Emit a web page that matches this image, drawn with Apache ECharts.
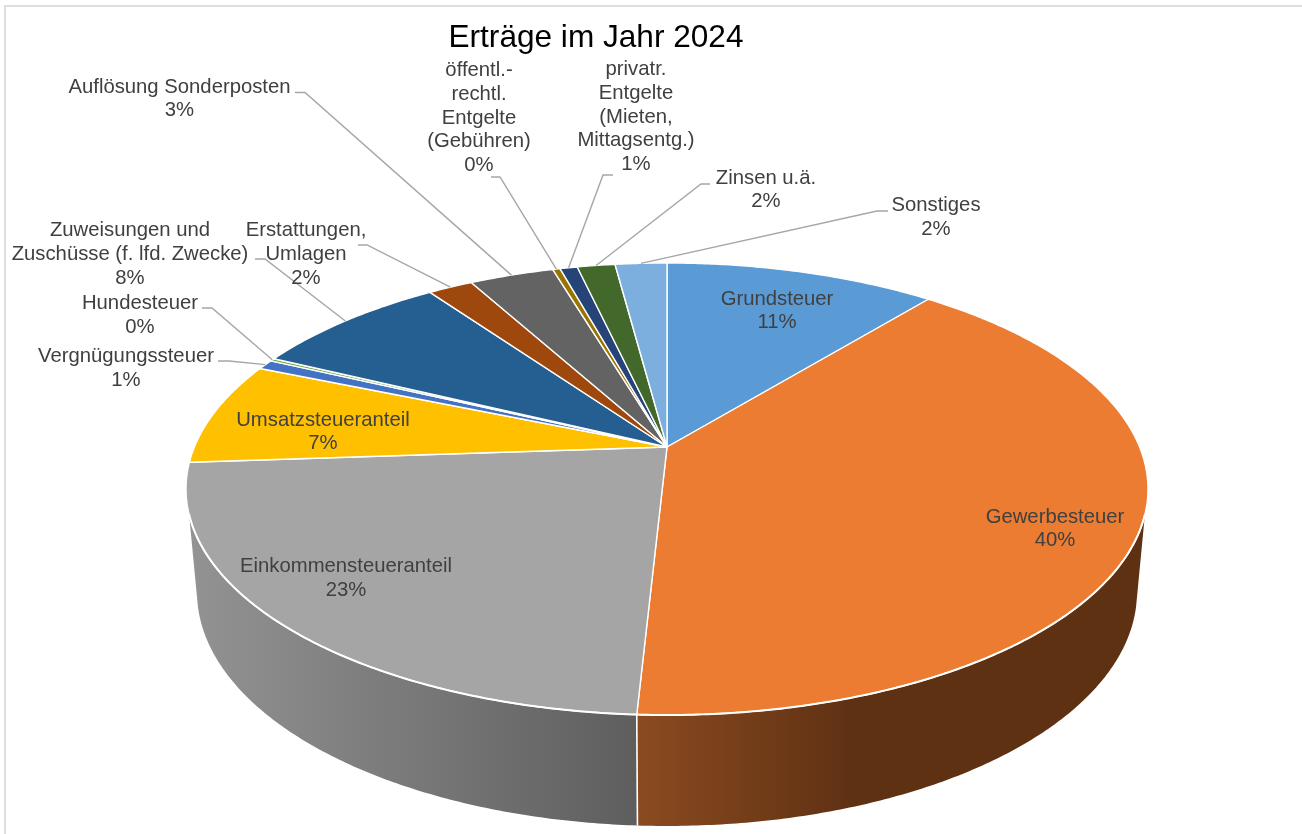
<!DOCTYPE html>
<html>
<head>
<meta charset="utf-8">
<style>html,body{margin:0;padding:0;background:#fff}#c{width:1302px;height:834px}</style>
<script src="https://cdn.jsdelivr.net/npm/echarts@6/dist/echarts.min.js"></script>
</head>
<body>
<div id="c"></div>
<script>
const chartTitle = 'Erträge im Jahr 2024';
const categories = ['Grundsteuer','Gewerbesteuer','Einkommensteueranteil','Umsatzsteueranteil','Vergnügungssteuer','Hundesteuer','Zuweisungen und\nZuschüsse (f. lfd. Zwecke)','Erstattungen,\nUmlagen','Auflösung Sonderposten','öffentl.-\nrechtl.\nEntgelte\n(Gebühren)','privatr.\nEntgelte\n(Mieten,\nMittagsentg.)','Zinsen u.ä.','Sonstiges'];
const values = [10.9,39.93,23.07,7.4,0.7,0.2,8.0,1.8,3.4,0.3,0.7,1.52,2.08];

const sliceColors = ['#5B9BD5','#EC7C31','#A5A5A5','#FFC000','#4472C4','#70AD47','#255E91','#9E480E','#636363','#997300','#264478','#43682B','#7CAFDD'];
// label block centre, and the leader's horizontal stub (from, elbow); no stub = label sits on the slice
const labelPlaces = [
  {c:[777,311]},
  {c:[1055,529]},
  {c:[346,578.5]},
  {c:[323,432]},
  {c:[126,368.5],stub:[[218,361],[229,361]]},
  {c:[140,315.5],stub:[[202,308],[212,308]]},
  {c:[130,254.5],stub:[[255,259],[265,259]]},
  {c:[306,254.5],stub:[[358,245],[367,245]]},
  {c:[179.5,99],stub:[[295,92.5],[305,92.5]]},
  {c:[479,118],stub:[[491,177],[500,177]]},
  {c:[636,117],stub:[[613,175],[603,175]]},
  {c:[766,190],stub:[[710,184],[701,184]]},
  {c:[936,217.5],stub:[[888,211],[877,211]]}
];
// perspective projection of the pie's circles onto the page
const topRim = {x0:667,y0:447,a:472.6,b:218.2,k:0.1858};
const botRim = {x0:667,y0:548.5,a:461.8,b:225.9,k:0.1858};
const FONT = '"Liberation Sans", Arial, sans-serif';

function project(rim, deg){
  const t = deg*Math.PI/180, u = Math.sin(t), v = -Math.cos(t), w = 1-rim.k*v;
  return [rim.x0+rim.a*u/w, rim.y0+rim.b*v/w];
}
function arc(rim, from, to){
  const n = Math.max(2, Math.ceil(Math.abs(to-from)/0.5)), pts = [];
  for(let i=0;i<=n;i++) pts.push(project(rim, from+(to-from)*i/n));
  return pts;
}
const total = values.reduce((s,x)=>s+x,0);
const starts = []; values.reduce((s,x,i)=>{starts[i]=s; return s+x;},0);
const deg = x => x/total*360;

const wallStyles = {
  1:{from:107,botFrom:104,grad:[[0,'#8B4B20'],[0.42,'#5F3113'],[1,'#5F3113']]},
  2:{to:253,botTo:256,grad:[[0,'#939393'],[1,'#5E5E5E']]}
};

function renderSlice(params, api){
  const i = params.dataIndex, a0 = deg(starts[i]), a1 = a0+deg(api.value(0));
  const kids = [];
  const wall = wallStyles[i];
  const pts = [[topRim.x0,topRim.y0]].concat(arc(topRim,a0,a1));
  kids.push({type:'polygon',z2:1,shape:{points:pts},style:{fill:sliceColors[i],stroke:'#fff',lineWidth:1.4,lineJoin:'round'}});
  if(wall){
    const tFrom = wall.from!==undefined?wall.from:a0, tTo = wall.to!==undefined?wall.to:a1;
    const bFrom = wall.botFrom!==undefined?wall.botFrom:a0, bTo = wall.botTo!==undefined?wall.botTo:a1;
    const topPts = arc(topRim, tFrom, tTo);
    const botPts = arc(botRim, bFrom, bTo).reverse();
    const fill = new echarts.graphic.LinearGradient(0,0,1,0,wall.grad.map(s=>({offset:s[0],color:s[1]})));
    kids.push({type:'polygon',z2:0,shape:{points:topPts.concat(botPts)},style:{fill:fill,stroke:null}});
    kids.push({type:'polyline',z2:2,shape:{points:topPts},style:{fill:null,stroke:'#fff',lineWidth:2}});
  }
  if(i===1){
    const a = project(topRim,a1), b = project(botRim,a1);
    kids.push({type:'line',z2:2,shape:{x1:a[0],y1:a[1],x2:b[0],y2:b[1]},style:{stroke:'#fff',lineWidth:1.6}});
  }
  const place = labelPlaces[i];
  if(place.stub){
    const end = project(topRim,(a0+a1)/2);
    kids.push({type:'polyline',z2:3,shape:{points:place.stub.concat([end])},style:{fill:null,stroke:'#A6A6A6',lineWidth:1.4}});
  }
  kids.push({type:'text',z2:4,style:{
    text:categories[i]+'\n'+Math.round(api.value(0)/total*100)+'%',
    x:place.c[0],y:place.c[1],align:'center',verticalAlign:'middle',
    font:'20.3px '+FONT,lineHeight:23.7,fill:'#404040'}});
  return {type:'group',children:kids};
}

const chart = echarts.init(document.getElementById('c'),null,{renderer:'canvas'});
chart.setOption({
  animation:false,
  backgroundColor:'#fff',
  title:{text:chartTitle,left:591,top:17,textAlign:'center',textStyle:{fontFamily:FONT,fontSize:31.6,fontWeight:'normal',color:'#000'}},
  graphic:[{type:'rect',silent:true,shape:{x:5,y:6,width:1400,height:1000},style:{fill:'none',stroke:'#DEDEDE',lineWidth:2}}],
  series:[{type:'custom',coordinateSystem:'none',clip:false,silent:true,renderItem:renderSlice,
    data:values.map((v,i)=>({name:categories[i],value:v}))}]
});
</script>
</body>
</html>
